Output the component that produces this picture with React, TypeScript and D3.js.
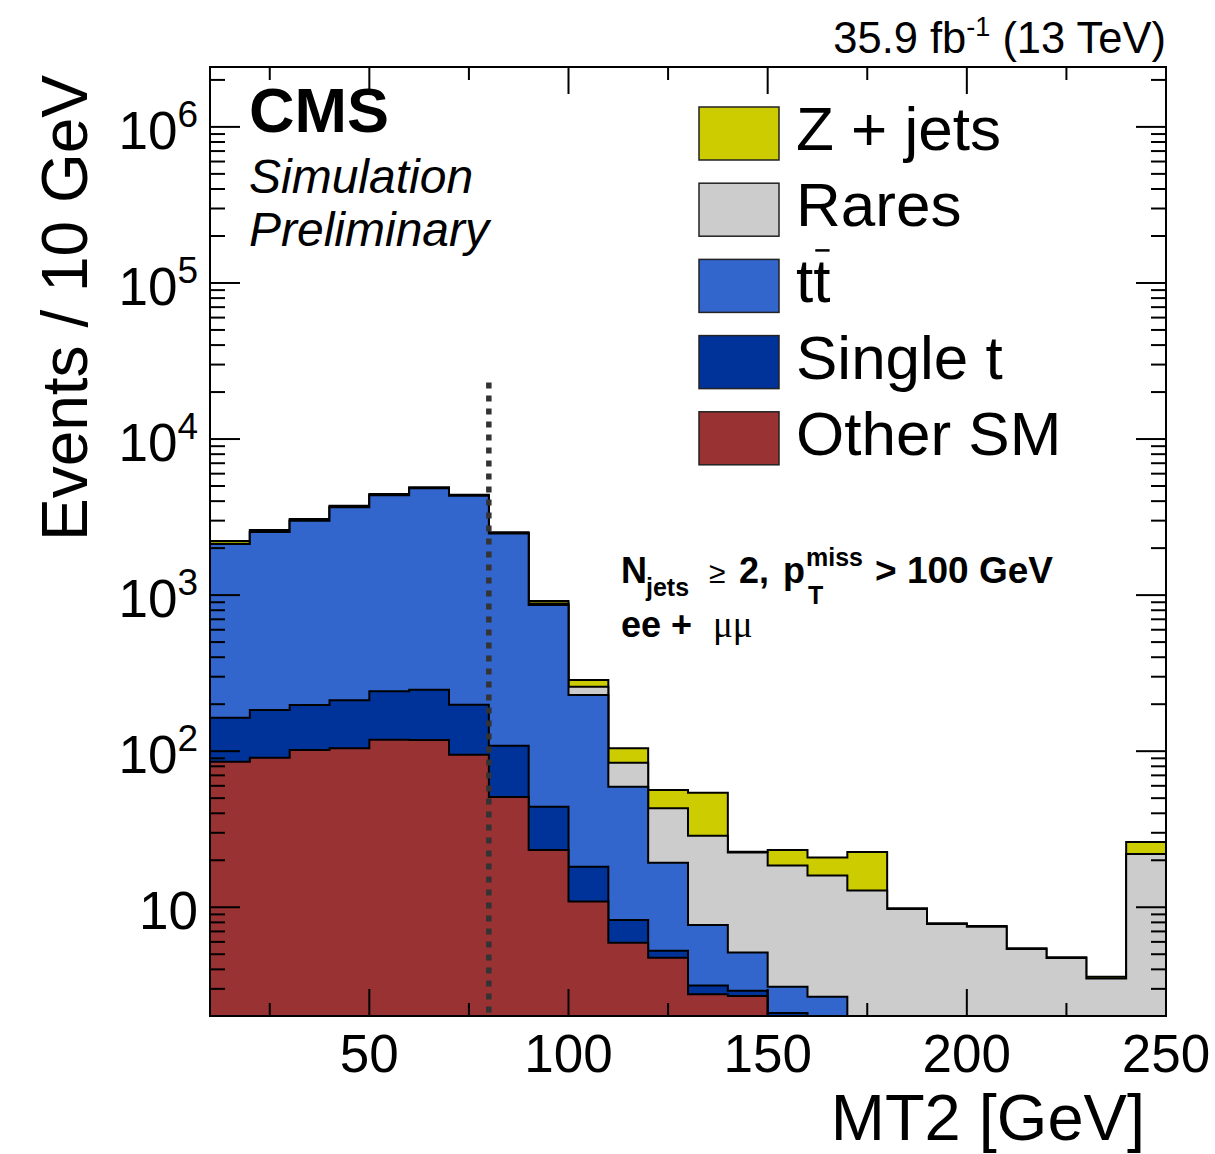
import React, { useEffect, useRef } from "react";
import * as d3 from "d3";

// MT2 bins, 10 GeV wide
const binLow = [10, 20, 30, 40, 50, 60, 70, 80, 90, 100, 110, 120, 130, 140, 150, 160, 170, 180, 190, 200, 210, 220, 230, 240];
const binWidth = 10;

// per-process yields (events / 10 GeV)
const otherSM = [85.6, 90.9, 101.8, 104.4, 118.5, 118, 95, 50.9, 23.3, 10.9, 5.93, 4.75, 2.77, 2.7, 1.5, 1.2, 0.8, 0.5, 0.4, 0.3, 0.3, 0.2, 0.2, 0.5];
const singleT = [78.3, 92.7, 95.9, 107.5, 123.4, 129.7, 103.6, 57.5, 20.8, 7.3, 2.36, 0.52, 0.38, 0.22, 0.6, 0.5, 0.3, 0.2, 0.1, 0.1, 0.1, 0.05, 0.05, 0.1];
const ttbar = [1961, 2356, 2802, 3448, 4118, 4582, 4131, 2372, 820, 210.9, 50.9, 14.0, 4.55, 2.2, 1.0, 0.97, 0.6, 0.5, 0.4, 0.3, 0.2, 0.2, 0.2, 0.6];
const rares = [12, 14, 16, 18, 20, 22, 22, 22, 20, 30, 25.2, 23.8, 21.0, 17.3, 15.4, 13.3, 11.1, 8.55, 6.9, 6.8, 4.8, 4.28, 3.04, 20.7];
const zJets = [85, 58, 57, 61, 63, 53, 45, 23, 33, 26.8, 20, 13.3, 25.5, 0.3, 4.8, 4.9, 9.8, 0.1, 0.1, 0.09, 0.06, 0.05, 0.1, 4.3];

// stacking order, bottom first
const stackKeys = ["otherSM", "singleT", "ttbar", "rares", "zJets"];
const stackColors = ["#993333", "#003399", "#3366cc", "#cccccc", "#cccc00"];

// legend, top to bottom
const legendKeys = ["zJets", "rares", "ttbar", "singleT", "otherSM"];
const legendLabels = ["Z + jets", "Rares", "tt", "Single t", "Other SM"];

const yMajorTicks = [10, 100, 1000, 10000, 100000, 1000000];
const yMajorExp = ["", "2", "3", "4", "5", "6"];
const xMajorTicks = [50, 100, 150, 200, 250];
const xMinorTicks = [25, 75, 125, 175, 225];

// MT2 cut line
const cutX = 80;
const cutTop = 23000;

const FONT = "'Liberation Sans', Arial, Helvetica, sans-serif";

function App() {
  const ref = useRef<SVGSVGElement>(null);

  function drawChart() {
    const svg = d3.select(ref.current);
    svg.selectAll("*").remove();

    const left = 210, right = 1166, top = 67, bottom = 1016;
    const yMin = 2.01, yMax = 2.42e6;

    const x = d3.scaleLinear().domain([10, 250]).range([left, right]);
    const y = d3.scaleLog().domain([yMin, yMax]).range([bottom, top]);
    const yc = (v: number) => y(Math.max(v, yMin));

    const rows = binLow.map((lo, i) => ({
      lo,
      otherSM: otherSM[i],
      singleT: singleT[i],
      ttbar: ttbar[i],
      rares: rares[i],
      zJets: zJets[i],
    }));
    const series = d3.stack<any>().keys(stackKeys)(rows);

    svg.append("defs").append("clipPath").attr("id", "plotClip")
      .append("rect").attr("x", left).attr("y", top)
      .attr("width", right - left).attr("height", bottom - top);

    const line = d3.line();
    const plot = svg.append("g").attr("clip-path", "url(#plotClip)");

    // draw cumulative histograms, largest first
    for (let s = series.length - 1; s >= 0; s--) {
      const pts: [number, number][] = [[x(binLow[0]), bottom]];
      series[s].forEach((d: any, i: number) => {
        pts.push([x(binLow[i]), yc(d[1])]);
        pts.push([x(binLow[i] + binWidth), yc(d[1])]);
      });
      pts.push([x(binLow[binLow.length - 1] + binWidth), bottom]);
      plot.append("path")
        .attr("d", line(pts) + "Z")
        .attr("fill", stackColors[s])
        .attr("stroke", "#000")
        .attr("stroke-width", 2)
        .attr("stroke-linejoin", "miter");
    }

    // cut line
    plot.append("line")
      .attr("x1", x(cutX)).attr("x2", x(cutX))
      .attr("y1", y(cutTop)).attr("y2", bottom)
      .attr("stroke", "#333")
      .attr("stroke-width", 5.5)
      .attr("stroke-dasharray", "6,7");

    // frame
    svg.append("rect")
      .attr("x", left).attr("y", top)
      .attr("width", right - left).attr("height", bottom - top)
      .attr("fill", "none").attr("stroke", "#000").attr("stroke-width", 2);

    const ticks = svg.append("g").attr("stroke", "#000").attr("stroke-width", 2);

    // y ticks, both sides
    const yMinor: number[] = [];
    for (let dec = 1; dec <= 1e6; dec *= 10) {
      for (let k = 2; k <= 9; k++) {
        const v = k * dec;
        if (v > yMin && v < yMax) yMinor.push(v);
      }
    }
    yMajorTicks.forEach((v) => {
      ticks.append("line").attr("x1", left).attr("x2", left + 30).attr("y1", y(v)).attr("y2", y(v));
      ticks.append("line").attr("x1", right).attr("x2", right - 30).attr("y1", y(v)).attr("y2", y(v));
    });
    yMinor.forEach((v) => {
      ticks.append("line").attr("x1", left).attr("x2", left + 15).attr("y1", y(v)).attr("y2", y(v));
      ticks.append("line").attr("x1", right).attr("x2", right - 15).attr("y1", y(v)).attr("y2", y(v));
    });

    // x ticks, top and bottom
    xMajorTicks.forEach((v) => {
      ticks.append("line").attr("x1", x(v)).attr("x2", x(v)).attr("y1", bottom).attr("y2", bottom - 27);
      ticks.append("line").attr("x1", x(v)).attr("x2", x(v)).attr("y1", top).attr("y2", top + 27);
    });
    xMinorTicks.forEach((v) => {
      ticks.append("line").attr("x1", x(v)).attr("x2", x(v)).attr("y1", bottom).attr("y2", bottom - 13);
      ticks.append("line").attr("x1", x(v)).attr("x2", x(v)).attr("y1", top).attr("y2", top + 13);
    });

    // tick labels
    const labels = svg.append("g").attr("font-family", FONT).attr("fill", "#000");
    xMajorTicks.forEach((v) => {
      labels.append("text").attr("x", x(v)).attr("y", 1072)
        .attr("text-anchor", "middle").attr("font-size", 53).text(v);
    });
    yMajorTicks.forEach((v, i) => {
      const t = labels.append("text").attr("x", 198).attr("y", y(v) + 22)
        .attr("text-anchor", "end").attr("font-size", 53).text("10");
      if (yMajorExp[i]) {
        t.append("tspan").attr("dy", -22).attr("font-size", 37).text(yMajorExp[i]);
      }
    });

    // axis titles
    labels.append("text")
      .attr("x", 1145).attr("y", 1140)
      .attr("text-anchor", "end").attr("font-size", 65)
      .text("MT2 [GeV]");
    labels.append("text")
      .attr("transform", "translate(87,75) rotate(-90)")
      .attr("text-anchor", "end").attr("font-size", 64)
      .text("Events / 10 GeV");

    // header
    const head = labels.append("text").attr("x", 1166).attr("y", 53)
      .attr("text-anchor", "end").attr("font-size", 43.5);
    head.append("tspan").text("35.9 fb");
    head.append("tspan").attr("dy", -17).attr("font-size", 27).text("-1");
    head.append("tspan").attr("dy", 17).text(" (13 TeV)");

    // CMS label
    labels.append("text").attr("x", 249).attr("y", 132)
      .attr("font-size", 63).attr("font-weight", "bold").text("CMS");
    labels.append("text").attr("x", 249).attr("y", 193)
      .attr("font-size", 48).attr("font-style", "italic").text("Simulation");
    labels.append("text").attr("x", 249).attr("y", 246)
      .attr("font-size", 48).attr("font-style", "italic").text("Preliminary");

    // selection text
    const sel = labels.append("g").attr("font-weight", "bold");
    sel.append("text").attr("x", 621).attr("y", 583).attr("font-size", 36).text("N");
    sel.append("text").attr("x", 646).attr("y", 596).attr("font-size", 25).text("jets");
    sel.append("text").attr("x", 709).attr("y", 583).attr("font-size", 30).attr("font-weight", "normal").text("≥");
    sel.append("text").attr("x", 739).attr("y", 583).attr("font-size", 36).text("2,");
    sel.append("text").attr("x", 783).attr("y", 583).attr("font-size", 36).text("p");
    sel.append("text").attr("x", 806).attr("y", 566).attr("font-size", 25).text("miss");
    sel.append("text").attr("x", 808).attr("y", 604).attr("font-size", 25).text("T");
    sel.append("text").attr("x", 875).attr("y", 583).attr("font-size", 37).text("> 100 GeV");
    sel.append("text").attr("x", 621).attr("y", 637).attr("font-size", 36).text("ee +");
    sel.append("text").attr("x", 713).attr("y", 637).attr("font-size", 37)
      .attr("font-weight", "normal").attr("font-family", "'Liberation Serif', 'DejaVu Serif', serif").text("μμ");

    // legend
    const legend = svg.append("g");
    legendKeys.forEach((k, i) => {
      const ty = 107 + i * 76.2;
      legend.append("rect")
        .attr("x", 699).attr("y", ty).attr("width", 80).attr("height", 53)
        .attr("fill", stackColors[stackKeys.indexOf(k)])
        .attr("stroke", "#222").attr("stroke-width", 1.5);
      const t = legend.append("text").attr("x", 796).attr("y", ty + 43)
        .attr("font-family", FONT).attr("font-size", 62)
        .text(legendLabels[i]);
      if (k === "ttbar") {
        // bar over the second t
        const node = t.node() as SVGTextElement;
        const ext = node.getExtentOfChar(1);
        legend.append("line")
          .attr("x1", ext.x + ext.width * 0.12).attr("x2", ext.x + ext.width * 0.95)
          .attr("y1", ty - 9).attr("y2", ty - 9)
          .attr("stroke", "#000").attr("stroke-width", 2.5);
      }
    });
  }

  useEffect(() => {
    document.body.style.margin = "0";
    drawChart();
  }, []);

  return <svg ref={ref} width={1215} height={1154} style={{ display: "block", background: "#fff" }} />;
}

export default App;
